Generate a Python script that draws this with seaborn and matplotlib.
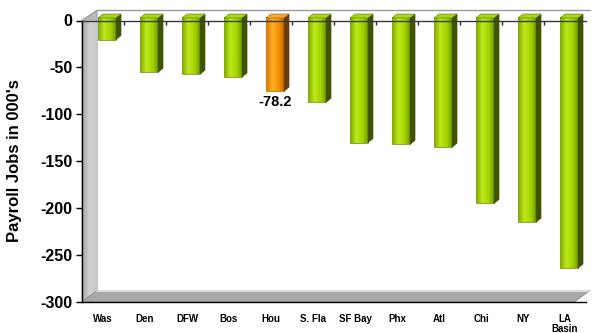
import numpy as np
import matplotlib
matplotlib.use("Agg")
import matplotlib.pyplot as plt
import seaborn as sns
from matplotlib.colors import LinearSegmentedColormap
from matplotlib.patches import Polygon
from matplotlib.lines import Line2D

# Change in payroll jobs (thousands) by metro area
cities = ["Was", "Den", "DFW", "Bos", "Hou", "S. Fla", "SF Bay",
          "Phx", "Atl", "Chi", "NY", "LA\nBasin"]
job_change = [-23, -58, -60, -63, -78.2, -90, -133, -135, -138, -198, -218, -267]
highlight = "Hou"
highlight_label = "-78.2"
y_ticks = [0, -50, -100, -150, -200, -250, -300]

sns.set_theme(style="white")
plt.rcParams["font.family"] = ["Liberation Sans", "DejaVu Sans"]
plt.rcParams["text.color"] = "black"
plt.rcParams["axes.labelcolor"] = "black"
plt.rcParams["xtick.color"] = "black"
plt.rcParams["ytick.color"] = "black"

fig = plt.figure(figsize=(5.95, 3.33), dpi=100)
fig.patch.set_facecolor("white")
ax = fig.add_axes([82 / 595, 31.5 / 333, 504 / 595, 281 / 333])
ax.set_facecolor("white")

green = "#96c800"
orange = "#f59300"
palette = {c: (orange if c == highlight else green) for c in cities}
sns.barplot(x=cities, y=job_change, hue=cities, palette=palette, legend=False,
            width=0.43, saturation=1, ax=ax, zorder=3)
ax.set_xlim(-0.5, len(cities) - 0.5)
ax.set_ylim(-300, 0)

# --- 3D box: left wall, floor and back edge (axes fraction coords) ---
wall = Polygon([(0, 0), (0, 1), (0.030, 1.036), (0.030, 0.039)],
               closed=True, transform=ax.transAxes, clip_on=False,
               facecolor="#b9b9b9", edgecolor="#9a9a9a", lw=0.6, zorder=0.5)
ax.add_patch(wall)
wall_grad = ax.imshow(np.linspace(0, 1, 64).reshape(1, -1),
                      cmap=LinearSegmentedColormap.from_list("w", ["#a6a6a6", "#d2d2d2", "#c4c4c4"]),
                      extent=(0, 0.030, 0, 1.036), transform=ax.transAxes,
                      aspect="auto", zorder=0.6)
wall_grad.set_clip_path(wall)
floor = Polygon([(0, 0), (0.030, 0.039), (1.008, 0.039), (0.978, 0)],
                closed=True, transform=ax.transAxes, clip_on=False,
                facecolor="#a8a8a8", edgecolor="#8e8e8e", lw=0.6, zorder=0.7)
ax.add_patch(floor)
ax.add_line(Line2D([0.030, 1.006], [0.037, 0.037], transform=ax.transAxes,
                   color="#e6e6e6", lw=1.2, clip_on=False, zorder=0.8))
ax.add_line(Line2D([0.030, 1.008], [1.036, 1.036], transform=ax.transAxes,
                   color="#9a9a9a", lw=1.0, clip_on=False, zorder=0.8))
ax.add_line(Line2D([0, 0.030], [1, 1.036], transform=ax.transAxes,
                   color="#9a9a9a", lw=0.8, clip_on=False, zorder=0.8))

# --- cylinder-like shading and depth faces on each bar ---
p0 = ax.transData.transform((0, 0))
p1 = ax.transData.transform((1, -1))
ppx = p1[0] - p0[0]
ppy = p0[1] - p1[1]
shift_x, shift_y = 4 / ppx, 2.5 / ppy
depth_x, depth_y = 5 / ppx, 4 / ppy

shade = {
    green: dict(cmap=LinearSegmentedColormap.from_list(
                    "g", ["#7ea800", "#bde81c", "#a6d400", "#6c9600"]),
                side="#3f5400", top="#a8d418", edge="#5a7a00"),
    orange: dict(cmap=LinearSegmentedColormap.from_list(
                    "o", ["#d67400", "#ffad2a", "#f59300", "#c46a00"]),
                 side="#6a3c08", top="#f7a838", edge="#9a5a00"),
}

bars = [b for cont in ax.containers for b in cont]
for bar, city in zip(bars, cities):
    style = shade[palette[city]]
    xa = bar.get_x() + shift_x
    w = bar.get_width()
    v = bar.get_height()
    xb = xa + w
    top = shift_y
    bot = shift_y + v
    bar.set_x(xa)
    bar.set_y(top)
    bar.set_clip_on(False)
    bar.set_edgecolor(style["edge"])
    bar.set_linewidth(0.4)
    im = ax.imshow(np.linspace(0, 1, 64).reshape(1, -1), cmap=style["cmap"],
                   extent=(xa, xb, bot, top), aspect="auto", zorder=3.5)
    im.set_clip_path(bar)
    im.set_clip_box(fig.bbox)
    ax.add_patch(Polygon([(xb, top), (xb + depth_x, top + depth_y),
                          (xb + depth_x, bot + depth_y), (xb, bot)],
                         closed=True, facecolor=style["side"], edgecolor=style["side"],
                         lw=0.4, clip_on=False, zorder=3.6))
    ax.add_patch(Polygon([(xa, top), (xa + depth_x, top + depth_y),
                          (xb + depth_x, top + depth_y), (xb, top)],
                         closed=True, facecolor=style["top"], edgecolor=style["edge"],
                         lw=0.4, clip_on=False, zorder=3.6))
    if city == highlight:
        ax.annotate(highlight_label, xy=((xa + xb) / 2, bot), xytext=(0, -3),
                    textcoords="offset points", ha="center", va="top",
                    fontsize=10.5, fontweight="bold", color="black", zorder=5)

ax.set_xlim(-0.5, len(cities) - 0.5)
ax.set_ylim(-300, 0)

# --- axes, ticks and labels ---
for side in ["left", "bottom", "top"]:
    ax.spines[side].set_visible(True)
ax.spines["right"].set_visible(False)
ax.spines["left"].set_color("black")
ax.spines["bottom"].set_color("black")
ax.spines["top"].set_color("#3a3a3a")
for s in ax.spines.values():
    s.set_linewidth(1.0)
    s.set_zorder(4)

ax.set_yticks(y_ticks)
ax.set_yticklabels([str(t) for t in y_ticks], fontsize=11.5, fontweight="bold",
                   color="black")
ax.tick_params(axis="y", direction="out", length=4, width=1, color="black",
               left=True, pad=3)
ax.set_xticks(range(len(cities)))
ax.set_xticklabels(cities, fontsize=7, fontweight="bold", linespacing=1.0,
                   color="black")
ax.tick_params(axis="x", which="major", bottom=False, top=False, length=0, pad=9)
ax.set_xticks(np.arange(0.5, len(cities) - 0.5, 1), minor=True)
ax.tick_params(axis="x", which="minor", top=True, bottom=False, direction="in",
               length=3, width=1, color="#2a2a2a")
ax.set_xlabel("")
ax.set_ylabel("Payroll Jobs in 000's", fontsize=12, fontweight="bold", color="black")
ax.yaxis.set_label_coords(-0.12, 0.5)
ax.grid(False)

fig.savefig("out.png", dpi=100, facecolor="white")
